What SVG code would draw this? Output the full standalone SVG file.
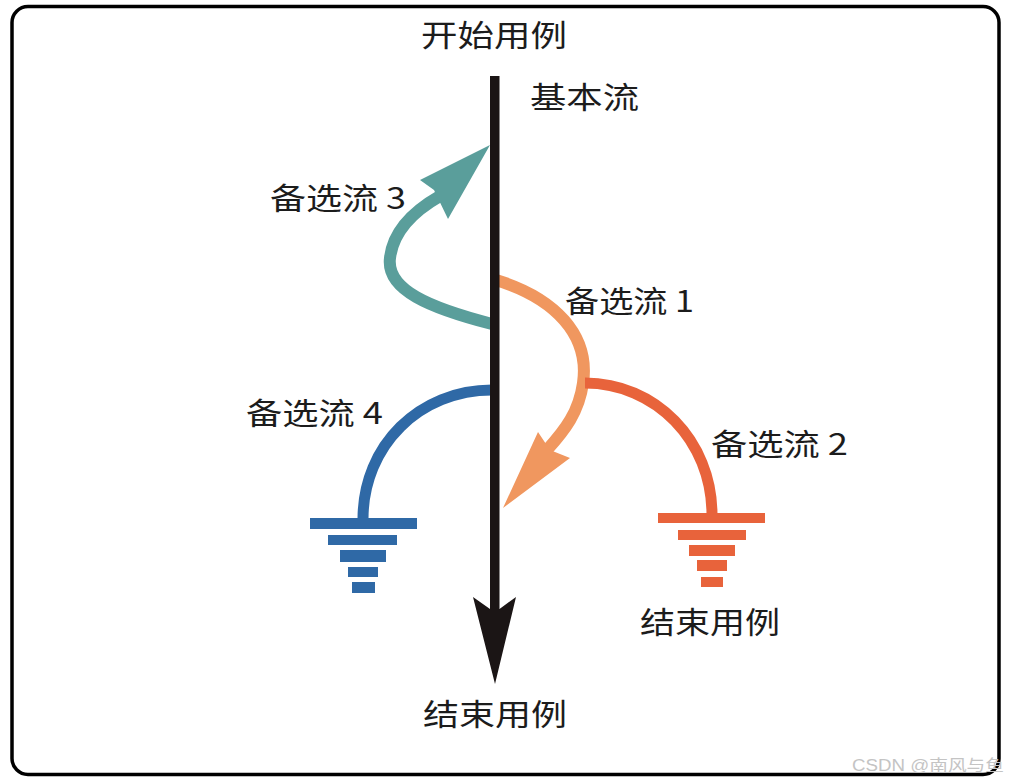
<svg xmlns="http://www.w3.org/2000/svg" width="1009" height="783" viewBox="0 0 1009 783">
  <style>
    .lbl { font-family: "Noto Sans CJK SC", "Liberation Sans", sans-serif; font-size: 30px; fill: #1c1c1c; }
    .flow { fill: none; stroke-linecap: butt; }
    .teal { stroke: #5a9e9b; }
    .lor { stroke: #f0975f; }
    .red { stroke: #e8633b; }
    .blue { stroke: #2f69a6; }
  </style>
  <rect x="0" y="0" width="1009" height="783" fill="#ffffff"/>
  <rect x="12" y="6.5" width="987" height="768" rx="16" ry="16" fill="#ffffff" stroke="#000000" stroke-width="3.5"/>

  <g id="connectors">
    <!-- alt flow 3 (teal) -->
    <path class="flow teal" stroke-width="12" d="M 492 324 C 430 308, 386 290, 390 258 C 393 232, 412 212, 440 196"/>
    <polygon fill="#5a9e9b" points="490,145 420,180 434,190 448,219"/>
    <!-- alt flow 1 (light orange) -->
    <path class="flow lor" stroke-width="12" d="M 496 280 C 555 298, 590 335, 583 383 C 579 412, 565 430, 547 450"/>
    <polygon fill="#f0975f" points="503,508 538,432 550,450 570,458"/>
    <!-- alt flow 2 (red-orange) -->
    <path class="flow red" stroke-width="11" d="M 585 383 C 655 383, 712 440, 712 515"/>
    <!-- alt flow 4 (blue) -->
    <path class="flow blue" stroke-width="11" d="M 492 390 C 420 390, 363 445, 363 519"/>
    <!-- basic flow -->
    <rect x="490" y="76" width="9.5" height="534" fill="#1b1515"/>
    <polygon fill="#1b1515" points="473,597 490,609 499.5,609 516,597 495,684"/>
  </g>

  <g id="ground-red" fill="#e8633b">
    <rect x="658" y="513" width="107" height="10"/>
    <rect x="678" y="530" width="68" height="10"/>
    <rect x="689" y="545" width="46" height="11"/>
    <rect x="697" y="560" width="30" height="11"/>
    <rect x="701" y="577" width="22" height="10"/>
  </g>
  <g id="ground-blue" fill="#2f69a6">
    <rect x="310" y="518" width="107" height="11"/>
    <rect x="328" y="535" width="69" height="10"/>
    <rect x="340" y="550" width="46" height="12"/>
    <rect x="348" y="567" width="30" height="10"/>
    <rect x="352" y="582" width="23" height="11"/>
  </g>

  <g id="start"><text class="lbl" x="421" y="46" textLength="146" lengthAdjust="spacingAndGlyphs">开始用例</text></g>
  <g id="basic"><text class="lbl" x="530" y="108" textLength="109" lengthAdjust="spacingAndGlyphs">基本流</text></g>
  <g id="alt3"><text class="lbl" x="270" y="209" textLength="136" lengthAdjust="spacingAndGlyphs">备选流 3</text></g>
  <g id="alt1"><text class="lbl" x="565" y="312" textLength="129" lengthAdjust="spacingAndGlyphs">备选流 1</text></g>
  <g id="alt4"><text class="lbl" x="246" y="424" textLength="137" lengthAdjust="spacingAndGlyphs">备选流 4</text></g>
  <g id="alt2"><text class="lbl" x="711" y="455" textLength="137" lengthAdjust="spacingAndGlyphs">备选流 2</text></g>
  <g id="end-right"><text class="lbl" x="640" y="633" textLength="140" lengthAdjust="spacingAndGlyphs">结束用例</text></g>
  <g id="end-bottom"><text class="lbl" x="423" y="725" textLength="144" lengthAdjust="spacingAndGlyphs">结束用例</text></g>

  <text x="852" y="771" font-family="'Liberation Sans', 'Noto Sans CJK SC', sans-serif" font-size="16" fill="#c4c4c4" textLength="152" lengthAdjust="spacingAndGlyphs">CSDN @南风与鱼</text>
</svg>
